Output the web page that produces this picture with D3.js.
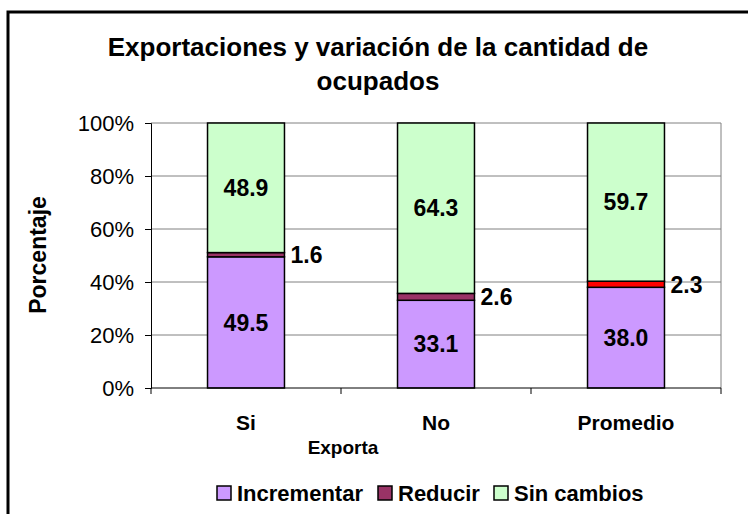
<!DOCTYPE html>
<html>
<head>
<meta charset="utf-8">
<script src="https://cdn.jsdelivr.net/npm/d3@7"></script>
<style>
  html, body { margin: 0; padding: 0; background: #fff; }
  svg { display: block; font-family: "Liberation Sans", Arial, sans-serif; }
</style>
</head>
<body>
<svg id="chart" width="748" height="514"></svg>
<script>
// Categories and stacked series (percent of firms)
const categories = ["Si", "No", "Promedio"];
const seriesNames = ["Incrementar", "Reducir", "Sin cambios"];
const incrementar = [49.5, 33.1, 38.0];
const reducir = [1.6, 2.6, 2.3];
const sinCambios = [48.9, 64.3, 59.7];
const yTicks = [0, 20, 40, 60, 80, 100];

const colors = ["#CC99FF", "#993366", "#CCFFCC"];
const reducirPromedioColor = "#FF0000";

const rows = categories.map((c, i) => ({
  cat: c,
  "Incrementar": incrementar[i],
  "Reducir": reducir[i],
  "Sin cambios": sinCambios[i]
}));

const svg = d3.select("#chart");

// outer chart frame
svg.append("rect")
  .attr("x", 8).attr("y", 12)
  .attr("width", 780).attr("height", 560)
  .attr("fill", "#fff").attr("stroke", "#000").attr("stroke-width", 3);

const plot = { left: 151, right: 721, top: 123, bottom: 388 };

const x = d3.scaleBand().domain(categories).range([plot.left, plot.right]).padding(0);
const barW = x.bandwidth() * 0.405;
const y = d3.scaleLinear().domain([0, 100]).range([plot.bottom, plot.top]);

// title
const title = svg.append("text")
  .attr("text-anchor", "middle")
  .attr("font-weight", "bold").attr("font-size", 26);
title.append("tspan").attr("x", 378).attr("y", 56).text("Exportaciones y variación de la cantidad de");
title.append("tspan").attr("x", 378).attr("y", 90).text("ocupados");

// gridlines
svg.append("g").selectAll("line")
  .data(yTicks.filter(t => t > 0))
  .join("line")
  .attr("x1", plot.left).attr("x2", plot.right)
  .attr("y1", d => y(d)).attr("y2", d => y(d))
  .attr("stroke", "#808080").attr("stroke-width", 1);
svg.append("line")
  .attr("x1", plot.right).attr("x2", plot.right)
  .attr("y1", plot.top).attr("y2", plot.bottom)
  .attr("stroke", "#808080").attr("stroke-width", 1);

// stacked bars
const stack = d3.stack().keys(seriesNames);
const layers = stack(rows);

const gBars = svg.append("g");
layers.forEach((layer, li) => {
  gBars.selectAll(null)
    .data(layer)
    .join("rect")
    .attr("x", d => x(d.data.cat) + (x.bandwidth() - barW) / 2)
    .attr("y", d => y(d[1]))
    .attr("width", barW)
    .attr("height", d => y(d[0]) - y(d[1]))
    .attr("fill", d => (li === 1 && d.data.cat === "Promedio") ? reducirPromedioColor : colors[li])
    .attr("stroke", "#000").attr("stroke-width", 1.5);
});

// value labels
const gLabels = svg.append("g")
  .attr("font-weight", "bold").attr("font-size", 23);
layers.forEach((layer, li) => {
  gLabels.selectAll(null)
    .data(layer)
    .join("text")
    .attr("x", d => li === 1
      ? x(d.data.cat) + (x.bandwidth() + barW) / 2 + 6
      : x(d.data.cat) + x.bandwidth() / 2)
    .attr("y", d => y((d[0] + d[1]) / 2))
    .attr("dy", "0.36em")
    .attr("text-anchor", li === 1 ? "start" : "middle")
    .text(d => (d[1] - d[0]).toFixed(1));
});

// y axis
const yAxis = d3.axisLeft(y).tickValues(yTicks).tickFormat(d => d + "%").tickSize(6).tickPadding(11);
const gy = svg.append("g").attr("transform", `translate(${plot.left},0)`).call(yAxis);
gy.select(".domain").attr("stroke", "#000");
gy.selectAll(".tick line").attr("stroke", "#000");
gy.selectAll(".tick text")
  .attr("font-family", "Liberation Sans, Arial, sans-serif")
  .attr("font-size", 22).attr("fill", "#000");

// x axis
const gx = svg.append("g").attr("transform", `translate(0,${plot.bottom})`);
gx.append("line")
  .attr("x1", plot.left).attr("x2", plot.right)
  .attr("stroke", "#000").attr("stroke-width", 1);
const xTickPos = categories.map(c => x(c)).concat([plot.right]);
gx.selectAll(".xt").data(xTickPos).join("line")
  .attr("x1", d => d).attr("x2", d => d)
  .attr("y1", 0).attr("y2", 6)
  .attr("stroke", "#000");
gx.selectAll(".xl").data(categories).join("text")
  .attr("x", d => x(d) + x.bandwidth() / 2)
  .attr("y", 34)
  .attr("dy", "0.36em")
  .attr("text-anchor", "middle")
  .attr("font-weight", "bold").attr("font-size", 21)
  .text(d => d);

// axis titles
svg.append("text")
  .attr("x", 343).attr("y", 447)
  .attr("dy", "0.36em")
  .attr("text-anchor", "middle")
  .attr("font-weight", "bold").attr("font-size", 19)
  .text("Exporta");
svg.append("text")
  .attr("transform", "translate(38,255) rotate(-90)")
  .attr("dy", "0.36em")
  .attr("text-anchor", "middle")
  .attr("font-weight", "bold").attr("font-size", 23)
  .text("Porcentaje");

// legend
const legendX = [217, 378, 494];
const gLeg = svg.append("g");
seriesNames.forEach((name, i) => {
  gLeg.append("rect")
    .attr("x", legendX[i]).attr("y", 486)
    .attr("width", 14).attr("height", 14)
    .attr("fill", colors[i]).attr("stroke", "#000").attr("stroke-width", 1.5);
  gLeg.append("text")
    .attr("x", legendX[i] + 20).attr("y", 493)
    .attr("dy", "0.36em")
    .attr("font-weight", "bold").attr("font-size", 22)
    .text(name);
});
</script>
</body>
</html>
